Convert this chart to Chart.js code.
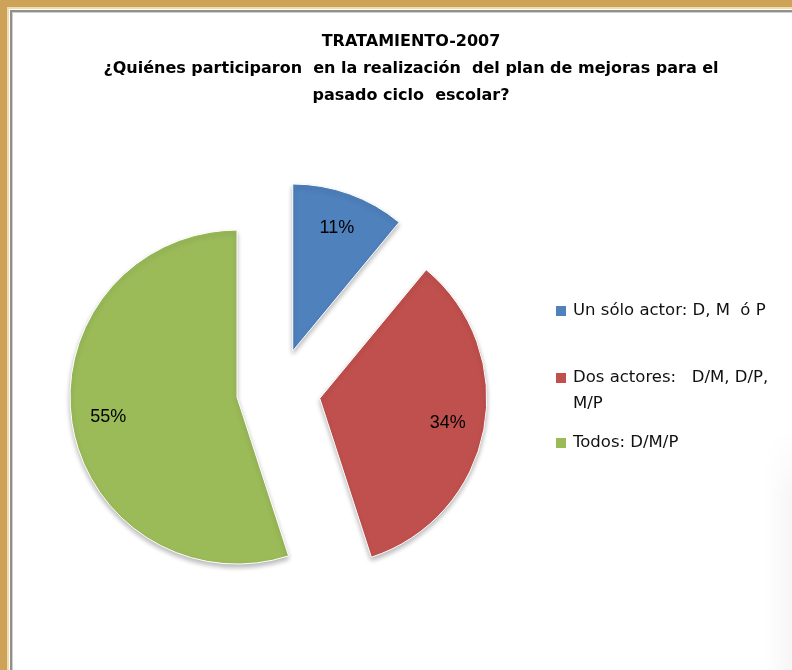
<!DOCTYPE html>
<html>
<head>
<meta charset="utf-8">
<script src="https://cdn.jsdelivr.net/npm/chart.js@4/dist/chart.umd.min.js"></script>
<style>
  html, body { margin: 0; padding: 0; width: 792px; height: 670px; overflow: hidden; }
  body { background: #cda35a; position: relative; }
  .frame {
    position: absolute; left: 7px; top: 7px; width: 785px; height: 663px;
    background: #fff;
    border-top: 2px solid #f3dcaa; border-left: 2px solid #f3dcaa;
    box-sizing: border-box;
  }
  .inner {
    position: absolute; left: 1px; top: 1px; right: 0; bottom: 0;
    border-top: 2px solid #8f8f8f; border-left: 2px solid #8f8f8f;
    box-shadow: inset 1px 1px 0 #d0d0d0;
  }
  .edge {
    position: absolute; left: 764px; top: 430px; width: 28px; height: 240px;
    background: linear-gradient(to right, rgba(0,0,0,0), rgba(0,0,0,0.035));
    -webkit-mask-image: linear-gradient(to bottom, transparent, #000 70px);
    mask-image: linear-gradient(to bottom, transparent, #000 70px);
  }
  canvas { position: absolute; left: 0; top: 0; }
</style>
</head>
<body>
<div class="frame"><div class="inner"></div></div>
<div class="edge"></div>
<canvas id="pieChart" width="792" height="680"></canvas>
<script>
// Chart data
const titleLines = ['TRATAMIENTO-2007', '¿Quiénes participaron  en la realización  del plan de mejoras para el', 'pasado ciclo  escolar?'];
const categories = [['Un sólo actor: D, M  ó P'], ['Dos actores:   D/M, D/P,', 'M/P'], ['Todos: D/M/P']];
const percentages = [11, 34, 55];
const sliceColors = ['#4F81BD', '#C0504D', '#9BBB59'];

const EXPLODE = 42;

// draws the slices pulled out from the centre, with a soft shadow
const explodePlugin = {
    id: 'explode',
    beforeDatasetDraw(chart, args) {
        const ctx = chart.ctx;
        args.meta.data.forEach(arc => {
            const mid = (arc.startAngle + arc.endAngle) / 2;
            ctx.save();
            ctx.shadowColor = 'rgba(0,0,0,0.28)';
            ctx.shadowBlur = 5;
            ctx.shadowOffsetX = 0;
            ctx.shadowOffsetY = 3;
            ctx.translate(Math.cos(mid) * EXPLODE, Math.sin(mid) * EXPLODE);
            arc.draw(ctx, chart.chartArea);
            ctx.restore();
        });
        return false;
    }
};

// percentage labels inside the slices
const labelPlugin = {
    id: 'sliceLabels',
    afterDatasetsDraw(chart) {
        const ctx = chart.ctx;
        const meta = chart.getDatasetMeta(0);
        ctx.save();
        ctx.font = '18px "Liberation Sans", Arial, sans-serif';
        ctx.fillStyle = '#000';
        ctx.textAlign = 'center';
        ctx.textBaseline = 'middle';
        meta.data.forEach((arc, i) => {
            const mid = (arc.startAngle + arc.endAngle) / 2;
            const dist = EXPLODE + arc.outerRadius * 0.78;
            ctx.fillText(percentages[i] + '%', arc.x + Math.cos(mid) * dist, arc.y + Math.sin(mid) * dist);
        });
        ctx.restore();
    }
};

// legend on the right, as its own layout box so the title spans the full width
const legendPlugin = {
    id: 'sideLegend',
    beforeInit(chart) {
        const opts = chart.options.plugins.sideLegend;
        const box = {
            position: 'right', weight: 0, fullSize: false, options: {},
            width: 0, height: 0, left: 0, top: 0, right: 0, bottom: 0,
            isHorizontal() { return false; },
            update(maxWidth, maxHeight) { this.width = opts.width; this.height = maxHeight; },
            draw() {
                const ctx = chart.ctx;
                ctx.save();
                ctx.font = '16.5px "DejaVu Sans", sans-serif';
                ctx.textBaseline = 'middle';
                categories.forEach((lines, i) => {
                    const y = opts.rows[i];
                    ctx.fillStyle = sliceColors[i];
                    ctx.fillRect(opts.x, y - 5, 10, 10);
                    ctx.fillStyle = '#111';
                    lines.forEach((line, j) => {
                        ctx.fillText(line, opts.x + 17, y + j * opts.lineHeight);
                    });
                });
                ctx.restore();
            }
        };
        Chart.layouts.addBox(chart, box);
    }
};

const ctx = document.getElementById('pieChart').getContext('2d');
const pieChart = new Chart(ctx, {
    type: 'pie',
    data: {
        labels: categories,
        datasets: [{
            data: percentages,
            backgroundColor: sliceColors,
            borderColor: '#ffffff',
            borderWidth: 1
        }]
    },
    options: {
        responsive: false,
        animation: false,
        radius: 167,
        layout: { padding: { left: 30, right: 0, top: 0, bottom: 8 } },
        plugins: {
            legend: { display: false },
            tooltip: { enabled: false },
            title: {
                display: true,
                text: titleLines,
                color: '#000',
                font: { family: '"DejaVu Sans", sans-serif', size: 16, weight: 'bold', lineHeight: '27px' },
                padding: { top: 28, bottom: 0 }
            },
            sideLegend: { width: 265, x: 556, rows: [311, 378, 443], lineHeight: 26 }
        }
    },
    plugins: [explodePlugin, labelPlugin, legendPlugin]
});
</script>
</body>
</html>
